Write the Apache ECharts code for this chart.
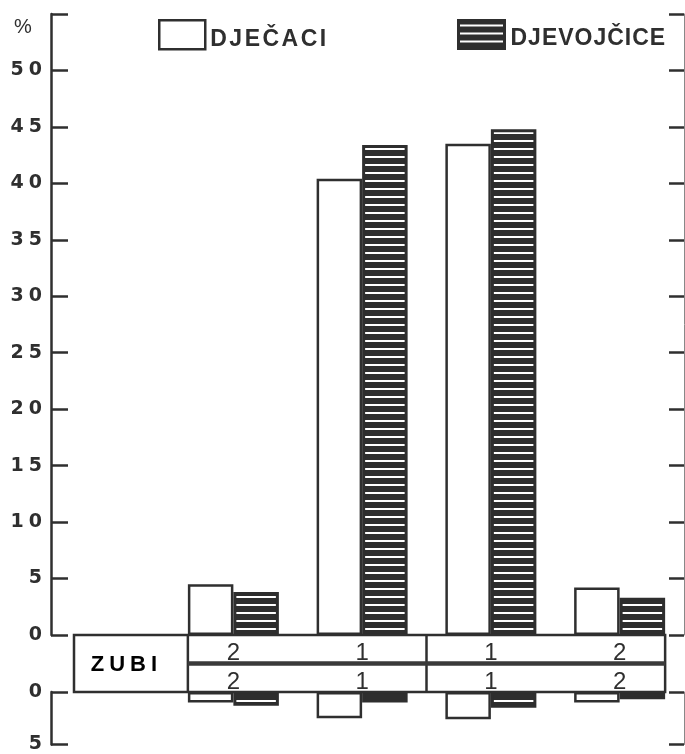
<!DOCTYPE html>
<html><head><meta charset="utf-8">
<script src="https://cdn.jsdelivr.net/npm/echarts/dist/echarts.min.js"></script>
<style>html,body{margin:0;padding:0;background:#fff}#c{width:685px;height:754px}</style>
</head><body><div id="c"></div>
<script>
// ---- data ----
const categories = ['2', '1', '1', '2'];           // "ZUBI" row labels
const seriesNames = ['DJEČACI', 'DJEVOJČICE'];
const boysUpper  = [4.5, 40.4, 43.5, 4.2];
const girlsUpper = [3.8, 43.4, 44.8, 3.3];
const boysLower  = [1.0, 2.5, 2.6, 1.0];
const girlsLower = [1.3, 1.0, 1.5, 0.7];
const upperRange = [0, 55];
const lowerRange = [0, 5];
const tickStep = 5;
const unitLabel = '%';
const tableLabel = 'ZUBI';

// ---- styles ----
const INK = '#2f2f2f';
const pc = document.createElement('canvas'); pc.width = 8; pc.height = 8;
const g = pc.getContext('2d');
g.fillStyle = '#2e2e2e'; g.fillRect(0, 0, 8, 8);
g.fillStyle = '#fff'; g.fillRect(0, 4, 8, 2);
const hatch = { image: pc, repeat: 'repeat' };
const whiteStyle = { color: '#fff', borderColor: INK, borderWidth: 2.5 };
const hatchStyle = { color: hatch, borderColor: '#2e2e2e', borderWidth: 3 };

const sp = s => s.split('').map((c, i) => '{' + (i ? 'b' : 'a') + '|' + c + '}').join('');
const richFor = (size, weight, gap, family) => ({
  a: { fontSize: size, fontWeight: weight, color: INK, fontFamily: family },
  b: { fontSize: size, fontWeight: weight, color: INK, fontFamily: family, padding: [0, 0, 0, gap] }
});

const GRID_LEFT = 169, GRID_W = 515, AXIS_X = 51;
const BAR_W = 45.5;

const leftAxis = (grid, range, inverse) => ({
  type: 'value', gridIndex: grid, min: range[0], max: range[1], interval: tickStep, inverse: inverse,
  offset: GRID_LEFT - AXIS_X,
  axisLine: { show: true, lineStyle: { color: INK, width: 2.5 } },
  axisTick: { show: true, inside: true, length: 17, lineStyle: { color: INK, width: 2.5 } },
  splitLine: { show: false },
  axisLabel: {
    margin: 9,
    formatter: v => (v === upperRange[1] ? '' : sp(String(v))),
    rich: richFor(19, 'bold', 5, 'DejaVu Sans')
  }
});
const rightAxis = (grid, range, inverse) => ({
  type: 'value', gridIndex: grid, position: 'right', min: range[0], max: range[1], interval: tickStep, inverse: inverse,
  axisLine: { show: true, lineStyle: { color: '#888', width: 1 } },
  axisTick: { show: true, inside: true, length: 15, lineStyle: { color: INK, width: 2.5 } },
  splitLine: { show: false },
  axisLabel: { show: false }
});
const catAxis = (grid, pos, margin) => ({
  type: 'category', gridIndex: grid, position: pos, data: categories,
  axisLine: { show: false }, axisTick: { show: false },
  axisLabel: { margin: margin, verticalAlign: 'middle', fontSize: 24, color: INK, fontFamily: 'Liberation Sans', interval: 0 }
});

const chart = echarts.init(document.getElementById('c'));
chart.setOption({
  animation: false,
  backgroundColor: '#fff',
  legend: [
    { left: 153, top: 14, itemWidth: 46, itemHeight: 29, selectedMode: false,
      data: [{ name: seriesNames[0], icon: 'rect', itemStyle: whiteStyle }],
      formatter: n => sp(n),
      textStyle: { padding: [9, 0, 0, 0], rich: richFor(23, 'bold', 2.5, 'Liberation Sans') } },
    { left: 452, top: 14, itemWidth: 46, itemHeight: 28, selectedMode: false,
      data: [{ name: seriesNames[1], icon: 'rect', itemStyle: hatchStyle }],
      formatter: n => sp(n),
      textStyle: { padding: [9, 0, 0, 1], rich: richFor(23, 'bold', 1, 'Liberation Sans') } }
  ],
  grid: [
    { left: GRID_LEFT, width: GRID_W, top: 14, height: 621 },
    { left: GRID_LEFT, width: GRID_W, top: 692, height: 55 }
  ],
  xAxis: [catAxis(0, 'bottom', 18), catAxis(1, 'top', 10)],
  yAxis: [leftAxis(0, upperRange, false), rightAxis(0, upperRange, false),
          leftAxis(1, lowerRange, true), rightAxis(1, lowerRange, true)],
  series: [
    { type: 'bar', name: seriesNames[0], xAxisIndex: 0, yAxisIndex: 0, data: boysUpper, barWidth: BAR_W, barGap: '0%', itemStyle: whiteStyle },
    { type: 'bar', name: seriesNames[1], xAxisIndex: 0, yAxisIndex: 0, data: girlsUpper, barWidth: BAR_W, barGap: '0%', itemStyle: hatchStyle },
    { type: 'bar', name: seriesNames[0], xAxisIndex: 1, yAxisIndex: 2, data: boysLower, barWidth: BAR_W, barGap: '0%', itemStyle: whiteStyle },
    { type: 'bar', name: seriesNames[1], xAxisIndex: 1, yAxisIndex: 2, data: girlsLower, barWidth: BAR_W, barGap: '0%', itemStyle: hatchStyle }
  ]
});

// table frame derived from the axes
const cx = i => chart.convertToPixel({ xAxisIndex: 0 }, i);
const topY = chart.convertToPixel({ yAxisIndex: 0 }, 0);
const botY = chart.convertToPixel({ yAxisIndex: 2 }, 0);
const inL = cx(0) - BAR_W, inR = cx(categories.length - 1) + BAR_W, mid = (cx(1) + cx(2)) / 2;
const tblL = 74, midY = (topY + botY) / 2;
const ls = { stroke: INK, lineWidth: 2.5 };
chart.setOption({
  graphic: [
    { type: 'rect', z: 50, shape: { x: tblL, y: topY, width: inR - tblL, height: botY - topY }, style: { fill: 'none', stroke: INK, lineWidth: 2.5 } },
    { type: 'line', z: 50, shape: { x1: inL, y1: topY, x2: inL, y2: botY }, style: ls },
    { type: 'line', z: 50, shape: { x1: mid, y1: topY, x2: mid, y2: botY }, style: ls },
    { type: 'line', z: 50, shape: { x1: inL, y1: midY, x2: inR, y2: midY }, style: { stroke: '#3a3a3a', lineWidth: 4.5 } },
    { type: 'text', z: 50, style: { text: sp(tableLabel), x: (tblL + inL) / 2 - 7, y: midY + 1, align: 'center', verticalAlign: 'middle',
        rich: richFor(22, 'bold', 5, 'Liberation Sans') } },
    { type: 'text', z: 50, style: { text: unitLabel, x: 23, y: 27, align: 'center', verticalAlign: 'middle',
        fontSize: 20, fill: INK, fontFamily: 'Liberation Sans' } }
  ]
});
</script></body></html>
